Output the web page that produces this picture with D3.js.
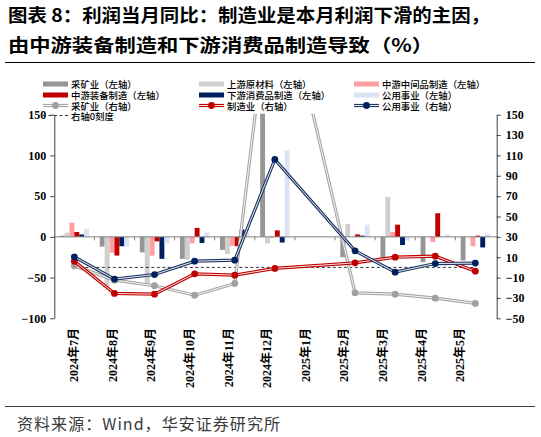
<!DOCTYPE html>
<html>
<head>
<meta charset="utf-8">
<script src="https://cdn.jsdelivr.net/npm/d3@7"></script>
<style>
  body { margin: 0; background: #fff; }
  svg text { font-family: "Liberation Serif", "Noto Sans CJK SC", serif; }
</style>
</head>
<body>
<svg id="chart" width="541" height="437"></svg>
<script>
// months on the x axis (2025年1月 has no data)
var months = ["2024年7月", "2024年8月", "2024年9月", "2024年10月", "2024年11月", "2024年12月",
              "2025年1月", "2025年2月", "2025年3月", "2025年4月", "2025年5月"];

// bars, left axis (%)
var miningL    = [1.5, -12, -19, -27, -16, 190, null, -25, -27, -31, -29];
var upstreamL  = [5, -60, -58, -28, -21, -8, null, 16, 49, 0, 0];
var midInterL  = [17.5, -19.5, -23, -8, -11, -1, null, 0, 6, -6.5, -11.5];
var midEquipL  = [6, -23, -5.5, 11, -11.5, 8, null, 3, 15, 29, 1.5];
var downConsL  = [3, -11.5, -27, -7.5, 9, -7, null, 1.5, -10, 0, -13];
var utilityL   = [10, -12, -8, 5.5, 5, 106, null, 15, -4.5, 3, 3.7];

// lines, right axis (%)
var miningR    = [1.5, -12.5, -18, -27.3, -15.8, 310, null, -25, -26.3, -30.2, -35.4];
var manufR     = [6, -25.6, -26.3, -6.3, -7.6, -1, null, 4.5, 10, 11, -3.7];
var utilityR   = [10.4, -11.5, -7, 6.1, 7.1, 106, null, 16.3, -4.7, 3.8, 4.2];
var zeroR      = [0, 0, 0, 0, 0, 0, 0, 0, 0, 0, 0];

// axis ticks
var leftTicks  = [-100, -50, 0, 50, 100, 150];
var rightTicks = [-50, -30, -10, 10, 30, 50, 70, 90, 110, 130, 150];

var svg = d3.select("#chart");

// plot area
var plot = {left: 54.3, right: 496.7, top: 114.7, bottom: 318.3};

var x = d3.scaleBand().domain(months).range([plot.left, 495.4]);
var yL = d3.scaleLinear().domain([-100, 150]).range([plot.bottom, plot.top]);
var yR = d3.scaleLinear().domain([-50, 150]).range([plot.bottom, plot.top]);
// label positions drift slightly left in the reference
var xLabel = d3.scalePoint().domain(months).range([74, 460]);

var barSeries = [
  {name: "采矿业（左轴）", values: miningL, color: "#969696"},
  {name: "上游原材料（左轴）", values: upstreamL, color: "#D0D0D0"},
  {name: "中游中间品制造（左轴）", values: midInterL, color: "#FF9F9F"},
  {name: "中游装备制造（左轴）", values: midEquipL, color: "#C00000"},
  {name: "下游消费品制造（左轴）", values: downConsL, color: "#002060"},
  {name: "公用事业（左轴）", values: utilityL, color: "#DAE3F3"}
];
var lineSeries = [
  {name: "采矿业（右轴）", values: miningR, color: "#A6A6A6", marker: "#A0A0A0"},
  {name: "制造业（右轴）", values: manufR, color: "#C00000", marker: "#C00000"},
  {name: "公用事业（右轴）", values: utilityR, color: "#203864", marker: "#002060"}
];

// group width of the six bars
var groupW = 29.4;
var xs = d3.scaleBand().domain(barSeries.map(function(d) { return d.name; })).range([0, groupW]);

/* title */
svg.append("text")
  .attr("x", 8).attr("y", 22)
  .attr("textLength", 482).attr("lengthAdjust", "spacingAndGlyphs")
  .style("font-family", "'Noto Sans CJK SC', sans-serif")
  .style("font-size", "18px").style("font-weight", "bold")
  .text("图表 8：利润当月同比：制造业是本月利润下滑的主因，");
svg.append("text")
  .attr("x", 8).attr("y", 52)
  .attr("textLength", 425).attr("lengthAdjust", "spacingAndGlyphs")
  .style("font-family", "'Noto Sans CJK SC', sans-serif")
  .style("font-size", "18px").style("font-weight", "bold")
  .text("由中游装备制造和下游消费品制造导致（%）");
svg.append("line")
  .attr("x1", 5).attr("x2", 535).attr("y1", 62.5).attr("y2", 62.5)
  .attr("stroke", "#000").attr("stroke-width", 1);

/* source */
svg.append("line")
  .attr("x1", 5).attr("x2", 535).attr("y1", 406.5).attr("y2", 406.5)
  .attr("stroke", "#404040").attr("stroke-width", 1);
svg.append("text")
  .attr("x", 17).attr("y", 430)
  .attr("textLength", 263).attr("lengthAdjust", "spacing")
  .style("font-family", "'Noto Sans CJK SC', sans-serif")
  .style("font-size", "16px").attr("fill", "#3a3a3a")
  .text("资料来源：Wind，华安证券研究所");

// clip for values beyond the axes
svg.append("clipPath").attr("id", "plotClip")
  .append("rect")
  .attr("x", plot.left).attr("y", plot.top - 1)
  .attr("width", plot.right - plot.left).attr("height", plot.bottom - plot.top + 2);

var graph = svg.append("g").attr("clip-path", "url(#plotClip)");

/* bars */
barSeries.forEach(function(s) {
  var pts = months.map(function(m, i) { return {m: m, v: s.values[i]}; })
    .filter(function(d) { return d.v !== null; });
  graph.selectAll(null)
    .data(pts)
    .enter().append("rect")
      .attr("x", function(d) { return x(d.m) + x.bandwidth() / 2 - groupW / 2 + xs(s.name); })
      .attr("y", function(d) { return yL(Math.max(0, d.v)); })
      .attr("width", xs.bandwidth())
      .attr("height", function(d) { return Math.abs(yL(d.v) - yL(0)); })
      .attr("fill", s.color);
});

/* zero line of the left axis with category ticks */
svg.append("line")
  .attr("x1", plot.left).attr("x2", plot.right)
  .attr("y1", yL(0)).attr("y2", yL(0))
  .attr("stroke", "#808080").attr("stroke-width", 1);
svg.selectAll(".catTick")
  .data(months.slice(1))
  .enter().append("line")
    .attr("class", "catTick")
    .attr("x1", function(d) { return x(d); }).attr("x2", function(d) { return x(d); })
    .attr("y1", yL(0)).attr("y2", yL(0) + 3.5)
    .attr("stroke", "#808080").attr("stroke-width", 1);

/* right axis 0 dashed line */
var lineGen = d3.line()
  .x(function(d) { return x(d.m) + x.bandwidth() / 2; })
  .y(function(d) { return yR(d.v); });

graph.append("path")
  .datum(months.map(function(m, i) { return {m: m, v: zeroR[i]}; }))
  .attr("d", lineGen)
  .attr("fill", "none")
  .attr("stroke", "#333")
  .attr("stroke-width", 1)
  .attr("stroke-dasharray", "3,2.5");

/* lines with markers (double line style) */
lineSeries.forEach(function(s) {
  var pts = months.map(function(m, i) { return {m: m, v: s.values[i]}; })
    .filter(function(d) { return d.v !== null; });
  graph.append("path").datum(pts)
    .attr("d", lineGen).attr("fill", "none")
    .attr("stroke", s.color).attr("stroke-width", 3.2);
  graph.append("path").datum(pts)
    .attr("d", lineGen).attr("fill", "none")
    .attr("stroke", "#fff").attr("stroke-width", 0.9);
  graph.selectAll(null)
    .data(pts)
    .enter().append("circle")
      .attr("cx", function(d) { return x(d.m) + x.bandwidth() / 2; })
      .attr("cy", function(d) { return yR(d.v); })
      .attr("r", 3.4)
      .attr("fill", s.marker);
});

/* left axis */
var leftAxis = svg.append("g")
  .attr("transform", "translate(" + plot.left + ",0)")
  .call(d3.axisLeft(yL).tickValues(leftTicks).tickSize(4).tickSizeOuter(0).tickPadding(4));
leftAxis.select(".domain").attr("stroke", "#404040");
leftAxis.selectAll(".tick line").attr("stroke", "#404040");
leftAxis.selectAll("text")
  .style("font-size", "12px").style("font-weight", "bold")
  .style("font-family", "'Liberation Serif', serif").attr("fill", "#000");

/* right axis */
var rightAxis = svg.append("g")
  .attr("transform", "translate(" + plot.right + ",0)")
  .call(d3.axisRight(yR).tickValues(rightTicks).tickSize(4).tickSizeOuter(0).tickPadding(5));
rightAxis.select(".domain").attr("stroke", "#404040");
rightAxis.selectAll(".tick line").attr("stroke", "#404040");
rightAxis.selectAll("text")
  .style("font-size", "12px").style("font-weight", "bold")
  .style("font-family", "'Liberation Serif', serif").attr("fill", "#000");

/* x labels, rotated */
svg.selectAll(".xLabel")
  .data(months)
  .enter().append("text")
    .attr("class", "xLabel")
    .attr("transform", function(d) { return "translate(" + xLabel(d) + ",328) rotate(-90)"; })
    .attr("text-anchor", "end")
    .attr("dy", "0.35em")
    .style("font-size", "12px").style("font-weight", "bold")
    .text(function(d) { return d; });

/* legend */
var legend = svg.append("g");
var legendCols = [43, 199, 354],
    legendRows = [84, 95, 105.5, 115.5],
    swatchW = 25;

function legendText(cx, cy, label) {
  legend.append("text")
    .attr("x", cx + swatchW + 3).attr("y", cy)
    .attr("dominant-baseline", "central")
    .style("font-family", "'Noto Sans CJK SC', sans-serif")
    .style("font-size", "9.4px").style("font-weight", 500)
    .text(label);
}

barSeries.forEach(function(s, i) {
  var cx = legendCols[i % 3], cy = legendRows[Math.floor(i / 3)];
  legend.append("rect")
    .attr("x", cx).attr("y", cy - 2.5)
    .attr("width", swatchW).attr("height", 5)
    .attr("fill", s.color);
  legendText(cx, cy, s.name);
});

lineSeries.forEach(function(s, i) {
  var cx = legendCols[i], cy = legendRows[2];
  legend.append("line")
    .attr("x1", cx).attr("x2", cx + swatchW).attr("y1", cy).attr("y2", cy)
    .attr("stroke", s.color).attr("stroke-width", 3.2);
  legend.append("line")
    .attr("x1", cx).attr("x2", cx + swatchW).attr("y1", cy).attr("y2", cy)
    .attr("stroke", "#fff").attr("stroke-width", 0.9);
  legend.append("circle")
    .attr("cx", cx + swatchW / 2).attr("cy", cy).attr("r", 3.4)
    .attr("fill", s.marker);
  legendText(cx, cy, s.name);
});

legend.append("line")
  .attr("x1", legendCols[0]).attr("x2", legendCols[0] + swatchW)
  .attr("y1", legendRows[3]).attr("y2", legendRows[3])
  .attr("stroke", "#333").attr("stroke-width", 1)
  .attr("stroke-dasharray", "3,2.5");
legendText(legendCols[0], legendRows[3], "右轴0刻度");
</script>
</body>
</html>
